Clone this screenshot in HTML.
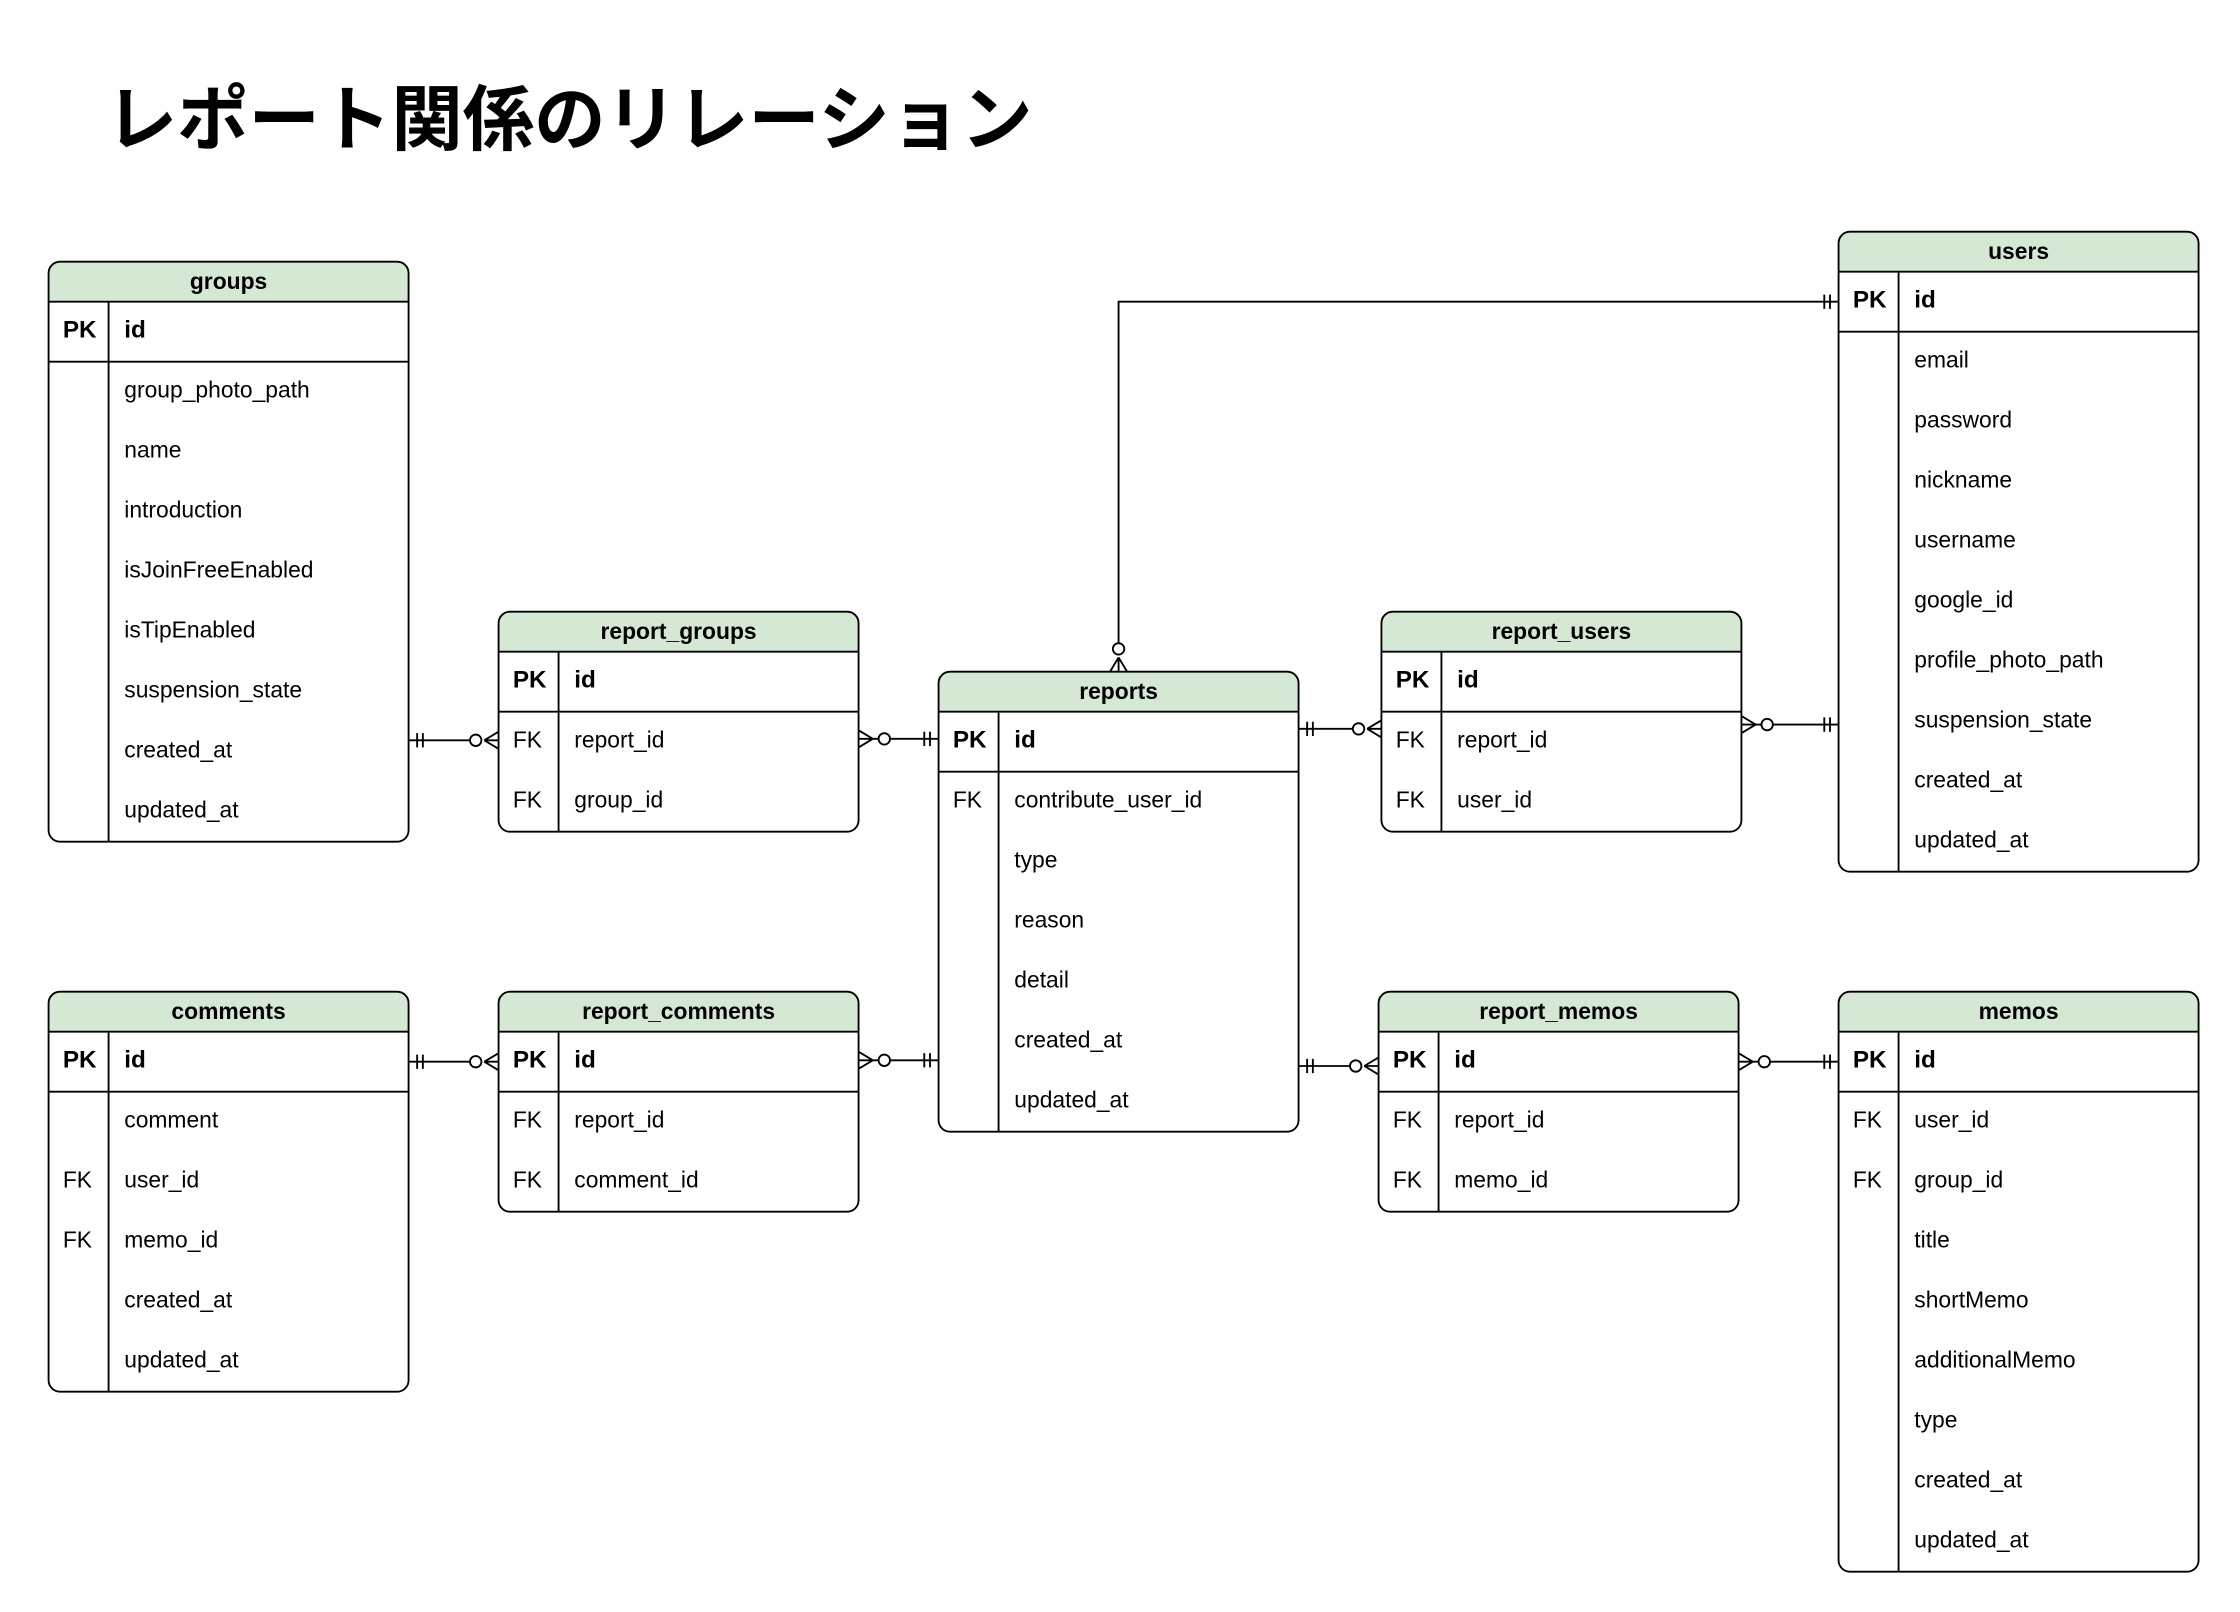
<!DOCTYPE html>
<html><head><meta charset="utf-8"><style>
html,body{margin:0;padding:0;background:#fff;}
svg{display:block;}
text{font-family:"Liberation Sans","Noto Sans CJK JP",sans-serif;fill:#000;}
g text{transform:translate(1px,-2px);}
g text.h{transform:translate(0px,0px);}
.h{font-weight:bold;font-size:16px;text-anchor:middle;}
.k{font-size:16px;}
.kb{font-size:17px;font-weight:bold;}
.t{font-size:16px;}
.tb{font-size:17px;font-weight:bold;}
.s{fill:none;stroke:#000;stroke-width:1.3;}
</style></head><body>
<svg width="2240" height="1612" viewBox="0 0 1568 1128" xmlns="http://www.w3.org/2000/svg">
<rect width="1568" height="1128" fill="#fff"/>
<text x="74" y="101" style="font-size:50px;font-weight:bold;font-family:'Liberation Sans','Noto Sans CJK JP',sans-serif">レポート関係のリレーション</text>

<g transform="translate(34,183)">
<path d="M0,28 V8 Q0,0 8,0 H244 Q252,0 252,8 V28 Z" fill="#d5e8d4"/>
<rect x="0" y="0" width="252" height="406" rx="8" class="s"/>
<path class="s" d="M0,28H252M0,70H252M42,28V406"/>
<text class="h" x="126" y="19">groups</text>
<text class="kb" x="9" y="55">PK</text><text class="tb" x="52" y="55">id</text>
<text class="t" x="52" y="97">group_photo_path</text>
<text class="t" x="52" y="139">name</text>
<text class="t" x="52" y="181">introduction</text>
<text class="t" x="52" y="223">isJoinFreeEnabled</text>
<text class="t" x="52" y="265">isTipEnabled</text>
<text class="t" x="52" y="307">suspension_state</text>
<text class="t" x="52" y="349">created_at</text>
<text class="t" x="52" y="391">updated_at</text>
</g>

<g transform="translate(349,428)">
<path d="M0,28 V8 Q0,0 8,0 H244 Q252,0 252,8 V28 Z" fill="#d5e8d4"/>
<rect x="0" y="0" width="252" height="154" rx="8" class="s"/>
<path class="s" d="M0,28H252M0,70H252M42,28V154"/>
<text class="h" x="126" y="19">report_groups</text>
<text class="kb" x="9" y="55">PK</text><text class="tb" x="52" y="55">id</text>
<text class="k" x="9" y="97">FK</text><text class="t" x="52" y="97">report_id</text>
<text class="k" x="9" y="139">FK</text><text class="t" x="52" y="139">group_id</text>
</g>

<g transform="translate(657,470)">
<path d="M0,28 V8 Q0,0 8,0 H244 Q252,0 252,8 V28 Z" fill="#d5e8d4"/>
<rect x="0" y="0" width="252" height="322" rx="8" class="s"/>
<path class="s" d="M0,28H252M0,70H252M42,28V322"/>
<text class="h" x="126" y="19">reports</text>
<text class="kb" x="9" y="55">PK</text><text class="tb" x="52" y="55">id</text>
<text class="k" x="9" y="97">FK</text><text class="t" x="52" y="97">contribute_user_id</text>
<text class="t" x="52" y="139">type</text>
<text class="t" x="52" y="181">reason</text>
<text class="t" x="52" y="223">detail</text>
<text class="t" x="52" y="265">created_at</text>
<text class="t" x="52" y="307">updated_at</text>
</g>

<g transform="translate(967,428)">
<path d="M0,28 V8 Q0,0 8,0 H244 Q252,0 252,8 V28 Z" fill="#d5e8d4"/>
<rect x="0" y="0" width="252" height="154" rx="8" class="s"/>
<path class="s" d="M0,28H252M0,70H252M42,28V154"/>
<text class="h" x="126" y="19">report_users</text>
<text class="kb" x="9" y="55">PK</text><text class="tb" x="52" y="55">id</text>
<text class="k" x="9" y="97">FK</text><text class="t" x="52" y="97">report_id</text>
<text class="k" x="9" y="139">FK</text><text class="t" x="52" y="139">user_id</text>
</g>

<g transform="translate(1287,162)">
<path d="M0,28 V8 Q0,0 8,0 H244 Q252,0 252,8 V28 Z" fill="#d5e8d4"/>
<rect x="0" y="0" width="252" height="448" rx="8" class="s"/>
<path class="s" d="M0,28H252M0,70H252M42,28V448"/>
<text class="h" x="126" y="19">users</text>
<text class="kb" x="9" y="55">PK</text><text class="tb" x="52" y="55">id</text>
<text class="t" x="52" y="97">email</text>
<text class="t" x="52" y="139">password</text>
<text class="t" x="52" y="181">nickname</text>
<text class="t" x="52" y="223">username</text>
<text class="t" x="52" y="265">google_id</text>
<text class="t" x="52" y="307">profile_photo_path</text>
<text class="t" x="52" y="349">suspension_state</text>
<text class="t" x="52" y="391">created_at</text>
<text class="t" x="52" y="433">updated_at</text>
</g>

<g transform="translate(34,694)">
<path d="M0,28 V8 Q0,0 8,0 H244 Q252,0 252,8 V28 Z" fill="#d5e8d4"/>
<rect x="0" y="0" width="252" height="280" rx="8" class="s"/>
<path class="s" d="M0,28H252M0,70H252M42,28V280"/>
<text class="h" x="126" y="19">comments</text>
<text class="kb" x="9" y="55">PK</text><text class="tb" x="52" y="55">id</text>
<text class="t" x="52" y="97">comment</text>
<text class="k" x="9" y="139">FK</text><text class="t" x="52" y="139">user_id</text>
<text class="k" x="9" y="181">FK</text><text class="t" x="52" y="181">memo_id</text>
<text class="t" x="52" y="223">created_at</text>
<text class="t" x="52" y="265">updated_at</text>
</g>

<g transform="translate(349,694)">
<path d="M0,28 V8 Q0,0 8,0 H244 Q252,0 252,8 V28 Z" fill="#d5e8d4"/>
<rect x="0" y="0" width="252" height="154" rx="8" class="s"/>
<path class="s" d="M0,28H252M0,70H252M42,28V154"/>
<text class="h" x="126" y="19">report_comments</text>
<text class="kb" x="9" y="55">PK</text><text class="tb" x="52" y="55">id</text>
<text class="k" x="9" y="97">FK</text><text class="t" x="52" y="97">report_id</text>
<text class="k" x="9" y="139">FK</text><text class="t" x="52" y="139">comment_id</text>
</g>

<g transform="translate(965,694)">
<path d="M0,28 V8 Q0,0 8,0 H244 Q252,0 252,8 V28 Z" fill="#d5e8d4"/>
<rect x="0" y="0" width="252" height="154" rx="8" class="s"/>
<path class="s" d="M0,28H252M0,70H252M42,28V154"/>
<text class="h" x="126" y="19">report_memos</text>
<text class="kb" x="9" y="55">PK</text><text class="tb" x="52" y="55">id</text>
<text class="k" x="9" y="97">FK</text><text class="t" x="52" y="97">report_id</text>
<text class="k" x="9" y="139">FK</text><text class="t" x="52" y="139">memo_id</text>
</g>

<g transform="translate(1287,694)">
<path d="M0,28 V8 Q0,0 8,0 H244 Q252,0 252,8 V28 Z" fill="#d5e8d4"/>
<rect x="0" y="0" width="252" height="406" rx="8" class="s"/>
<path class="s" d="M0,28H252M0,70H252M42,28V406"/>
<text class="h" x="126" y="19">memos</text>
<text class="kb" x="9" y="55">PK</text><text class="tb" x="52" y="55">id</text>
<text class="k" x="9" y="97">FK</text><text class="t" x="52" y="97">user_id</text>
<text class="k" x="9" y="139">FK</text><text class="t" x="52" y="139">group_id</text>
<text class="t" x="52" y="181">title</text>
<text class="t" x="52" y="223">shortMemo</text>
<text class="t" x="52" y="265">additionalMemo</text>
<text class="t" x="52" y="307">type</text>
<text class="t" x="52" y="349">created_at</text>
<text class="t" x="52" y="391">updated_at</text>
</g>

<g class="s" fill="#fff">
<path d="M286,518H329M292,513V523M296,513V523M339,518L349,512M339,518L349,524M339,518H349"/>
<circle cx="333" cy="518" r="4" fill="#fff"/>
<path d="M611,517H657M651,512V522M647,512V522M611,517L601,511M611,517L601,523M601,517H611"/>
<circle cx="619" cy="517" r="4" fill="#fff"/>
<path d="M909,510H947M915,505V515M919,505V515M957,510L967,504M957,510L967,516M957,510H967"/>
<circle cx="951" cy="510" r="4" fill="#fff"/>
<path d="M1229,507H1287M1281,502V512M1277,502V512M1229,507L1219,501M1229,507L1219,513M1219,507H1229"/>
<circle cx="1237" cy="507" r="4" fill="#fff"/>
<path d="M286,743H329M292,738V748M296,738V748M339,743L349,737M339,743L349,749M339,743H349"/>
<circle cx="333" cy="743" r="4" fill="#fff"/>
<path d="M611,742H657M651,737V747M647,737V747M611,742L601,736M611,742L601,748M601,742H611"/>
<circle cx="619" cy="742" r="4" fill="#fff"/>
<path d="M909,746H945M915,741V751M919,741V751M955,746L965,740M955,746L965,752M955,746H965"/>
<circle cx="949" cy="746" r="4" fill="#fff"/>
<path d="M1227,743H1287M1281,738V748M1277,738V748M1227,743L1217,737M1227,743L1217,749M1217,743H1227"/>
<circle cx="1235" cy="743" r="4" fill="#fff"/>
<path d="M1287,211H783V450M1281,206V216M1277,206V216M783,460L777,470M783,460L789,470M783,460V470"/>
<circle cx="783" cy="454" r="4" fill="#fff"/>
</g>
</svg>
</body></html>
